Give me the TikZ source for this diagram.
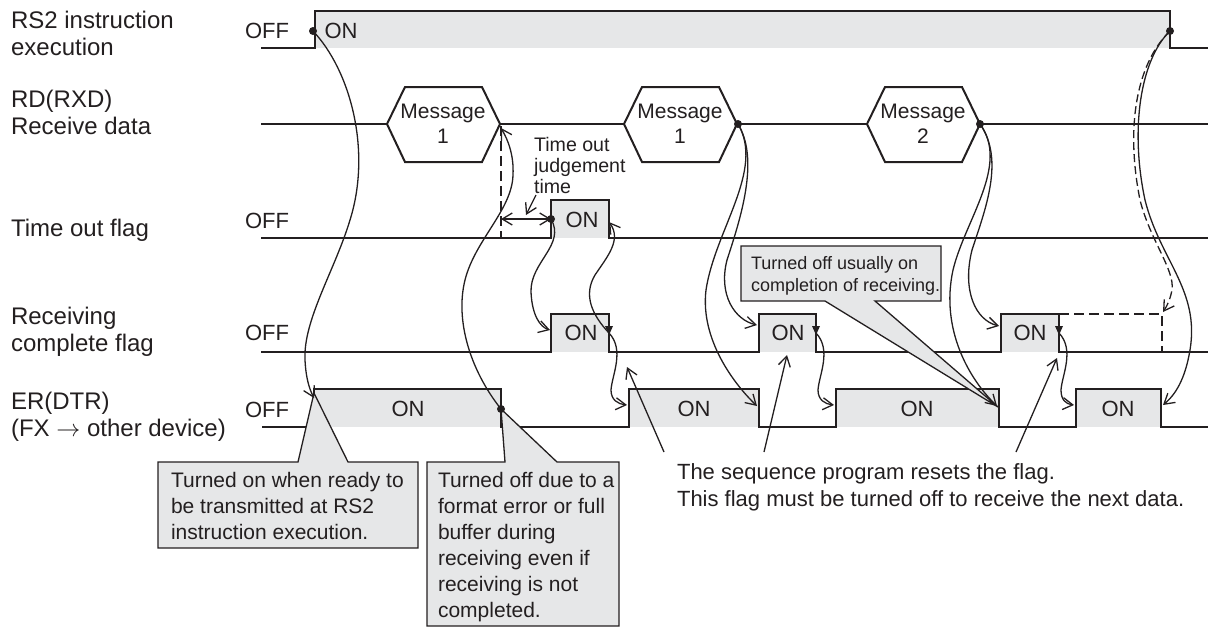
\documentclass[tikz,border=0pt]{standalone}
\usepackage{fontspec}
\setmainfont{Liberation Sans}
\usepackage{xcolor}
\usepackage{tikz}
\usetikzlibrary{arrows.meta,calc}

\definecolor{onfill}{HTML}{E6E7E8}
\definecolor{ink}{HTML}{231F20}

\tikzset{
  wave/.style={line width=1pt,draw=ink},
  link/.style={line width=0.65pt,draw=ink},
  tip/.style={-{Straight Barb[length=5pt,width=6pt]}},
  rowlbl/.style={anchor=west,align=left,text=ink,font=\fontsize{12}{13.5}\selectfont},
  lvl/.style={text=ink,font=\fontsize{11}{12}\selectfont},
  msgtxt/.style={text=ink,align=center,font=\fontsize{10.5}{12.5}\selectfont},
  note/.style={text=ink,align=left,anchor=north west,font=\fontsize{10.5}{13}\selectfont},
  callout/.style={draw=ink,fill=onfill,line width=0.65pt},
}

\begin{document}
\begin{tikzpicture}[x=0.5pt,y=-0.5pt]
\useasboundingbox (0,0) rectangle (1216,628);

% Row labels
\node[rowlbl] (lblrs) at (4,33) {RS2 instruction\\execution};
\node[rowlbl] (lblrd) at (4,112) {RD(RXD)\\Receive data};
\node[rowlbl] (lblto) at (4,230) {Time out flag};
\node[rowlbl] (lblrc) at (4,332) {Receiving\\complete flag};
\node[rowlbl] (lbler) at (4,417) {ER(DTR)\\(FX $\rightarrow$ other device)};

% OFF levels
\node[lvl] (rsoff) at (267,31) {OFF};
\node[lvl] (tooff) at (267,221) {OFF};
\node[lvl] (rcoff) at (267,333) {OFF};
\node[lvl] (eroff) at (267,410) {OFF};

% RS2 instruction execution
\fill[onfill] (315,11) rectangle (1170,48);
\draw[wave] (261,48) -- (315,48) -- (315,11) -- (1170,11) -- (1170,48) -- (1208,48);
\node[lvl] (rson) at (341,31) {ON};
\coordinate (rsup) at (313,31);
\coordinate (rsdown) at (1170,31);

% Receive data
\draw[wave] (261,124) -- (387,124);
\draw[wave] (500,124) -- (624,124);
\draw[wave] (738,124) -- (867,124);
\draw[wave] (980,124) -- (1208,124);
\foreach \x/\n/\i in {387/1/1,624/1/2,867/2/3} {
  \draw[wave] (\x,124) -- ++(18,-37) -- ++(77,0) -- ++(18,37) -- ++(-18,38) -- ++(-77,0) -- cycle;
  \node[msgtxt] (msg\i) at (\x+56,124) {Message\\\n};
}
\coordinate (m1end) at (500,124);
\coordinate (m2end) at (738,124);
\coordinate (m3end) at (980,124);

% Time out flag
\fill[onfill] (551,200) rectangle (609,238);
\draw[wave] (261,238) -- (551,238) -- (551,200) -- (609,200) -- (609,238) -- (1208,238);
\node[lvl] (toon) at (582,220) {ON};
\coordinate (toup) at (551,219);
\coordinate (todown) at (609,222);
\draw[link,dashed,line width=0.8pt,dash pattern=on 5pt off 2.5pt] (501,126) -- (501,238);
\draw[link,{Straight Barb[length=5pt,width=6pt]}-{Straight Barb[length=5pt,width=6pt]}] (501,219) -- (toup);
\node[note,font=\fontsize{9.8}{10.5}\selectfont] (tojudge) at (527,130) {Time out\\judgement\\time};
\draw[link,tip] (536,195) -- (526,215);

% Receiving complete flag
\fill[onfill] (551,314) rectangle (609,352);
\fill[onfill] (759,314) rectangle (816,352);
\fill[onfill] (1001,314) rectangle (1059,352);
\draw[wave] (261,352) -- (551,352) -- (551,314) -- (609,314) -- (609,352) -- (759,352) -- (759,314) -- (816,314) -- (816,352) -- (1001,352) -- (1001,314) -- (1059,314) -- (1059,352) -- (1208,352);
\draw[wave,dash pattern=on 5pt off 2.5pt] (1059,314) -- (1162,314) -- (1162,352);
\node[lvl] (rcon1) at (581,333) {ON};
\node[lvl] (rcon2) at (788,333) {ON};
\node[lvl] (rcon3) at (1030,333) {ON};
\foreach \x/\i in {609/1,816/2,1059/3} {
  \coordinate (rcdown\i) at (\x,333);
  \fill[ink] (\x-4,326) -- (\x+4,326) -- (\x,335) -- cycle;
}

% ER(DTR)
\fill[onfill] (314,389) rectangle (501,427);
\fill[onfill] (629,389) rectangle (759,427);
\fill[onfill] (836,389) rectangle (999,427);
\fill[onfill] (1076,389) rectangle (1161,427);
\draw[wave] (262,427) -- (314,427) -- (314,389) -- (501,389) -- (501,427) -- (629,427) -- (629,389) -- (759,389) -- (759,427) -- (836,427) -- (836,389) -- (999,389) -- (999,427) -- (1076,427) -- (1076,389) -- (1161,389) -- (1161,427) -- (1208,427);
\node[lvl] (eron1) at (408,409) {ON};
\node[lvl] (eron2) at (694,409) {ON};
\node[lvl] (eron3) at (917,409) {ON};
\node[lvl] (eron4) at (1118,409) {ON};
\coordinate (erdot) at (501,409);

% Callouts
\draw[callout] (158,462) -- (298,462) -- (314,393) -- (348,462) -- (418,462) -- (418,548) -- (158,548) -- cycle;
\node[note] (noteon) at (164,465) {Turned on when ready to\\be transmitted at RS2\\instruction execution.};
\draw[callout] (427,462) -- (505,462) -- (501,409) -- (557,462) -- (619,462) -- (619,626) -- (427,626) -- cycle;
\node[note] (noteoff) at (431,465) {Turned off due to a\\format error or full\\buffer during\\receiving even if\\receiving is not\\completed.};
\draw[callout] (741,246) -- (941,246) -- (941,301) -- (875,301) -- (998,407) -- (825,301) -- (741,301) -- cycle;
\node[note,font=\fontsize{9}{11}\selectfont] (noteusual) at (744,249) {Turned off usually on\\completion of receiving.};

% Sequence program note
\node[note,anchor=west,font=\fontsize{11}{13.5}\selectfont] (noteseq) at (670,487) {The sequence program resets the flag.\\This flag must be turned off to receive the next data.};
\draw[link,tip] (664,452) -- (627,367);
\draw[link,tip] (764,452) -- (787,355);
\draw[link,tip] (1016,452) -- (1057,358);

% Dots
\foreach \p in {rsup,rsdown,m2end,m3end,toup,erdot}
  \fill[ink] (\p) circle (2pt);

% Cause and effect
\draw[link,tip] (rsup) .. controls (350,70) and (372,150) .. (350,220) .. controls (335,270) and (303,320) .. (305,360) .. controls (306,380) and (310,390) .. (314,398);
\draw[link,tip] (erdot) .. controls (470,370) and (455,320) .. (465,280) .. controls (475,240) and (512,210) .. (513,175) .. controls (514,155) and (508,140) .. (501,128);
\draw[link,tip] (toup) .. controls (566,245) and (530,262) .. (531,292) .. controls (532,315) and (540,327) .. (550,330);
\draw[link,tip] (rcdown1) .. controls (592,315) and (583,295) .. (595,275) .. controls (607,257) and (622,240) .. (todown);
\draw[link,tip] (rcdown1) .. controls (625,350) and (612,375) .. (611,390) .. controls (611,400) and (618,404) .. (627,405);
\draw[link,tip] (rcdown2) .. controls (832,350) and (819,375) .. (818,390) .. controls (818,400) and (825,404) .. (834,405);
\draw[link,tip] (rcdown3) .. controls (1075,350) and (1062,375) .. (1061,390) .. controls (1061,400) and (1066,404) .. (1074,405);
\draw[link,tip] (m2end) .. controls (760,160) and (740,220) .. (727,260) .. controls (718,295) and (735,320) .. (757,325);
\draw[link,tip] (m2end) .. controls (765,170) and (715,230) .. (706,290) .. controls (700,340) and (735,385) .. (757,406);
\draw[link,tip] (m3end) .. controls (1005,160) and (985,210) .. (972,250) .. controls (962,290) and (975,320) .. (999,326);
\draw[link,tip] (m3end) .. controls (1010,165) and (965,220) .. (953,270) .. controls (940,330) and (970,380) .. (997,406);
\draw[link,tip] (rsdown) .. controls (1140,60) and (1130,130) .. (1145,200) .. controls (1160,260) and (1200,290) .. (1190,350) .. controls (1185,380) and (1175,395) .. (1163,405);
\draw[link,tip,dash pattern=on 4pt off 2pt] (rsdown) .. controls (1135,65) and (1126,130) .. (1140,200) .. controls (1150,240) and (1175,270) .. (1172,290) .. controls (1170,300) and (1167,306) .. (1163,312);

\end{tikzpicture}
\end{document}
